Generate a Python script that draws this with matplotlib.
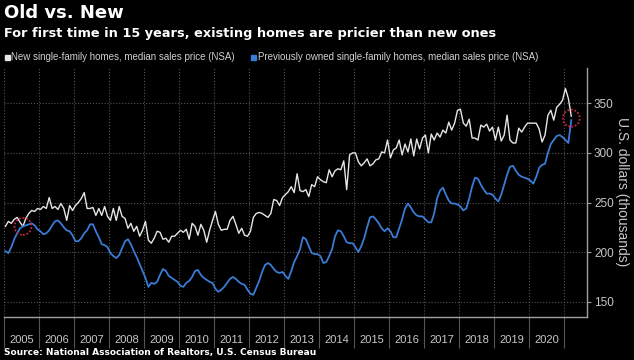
import numpy as np
import matplotlib
matplotlib.use("Agg")
import matplotlib.pyplot as plt
from matplotlib.patches import Ellipse, Rectangle

# monatswerte jan 2005 - mar 2021, tausend usd
years = list(range(2005, 2021))

new_homes = [
    226, 231, 229, 233, 235, 230, 226, 234, 239, 242, 241, 244,
    243, 246, 244, 255, 244, 246, 243, 249, 244, 232, 247, 242,
    247, 250, 254, 260, 244, 244, 245, 237, 244, 237, 246, 236,
    232, 244, 232, 246, 236, 234, 224, 229, 221, 226, 216, 222,
    231, 212, 209, 214, 221, 220, 213, 214, 210, 216, 216, 219,
    222, 220, 223, 213, 229, 226, 217, 228, 222, 210, 222, 232,
    241, 228, 222, 223, 223, 232, 236, 228, 219, 224, 217, 216,
    221, 235, 239, 240, 239, 237, 235, 239, 253, 252, 247, 255,
    258, 261, 266, 260, 279, 262, 261, 263, 256, 268, 266, 276,
    273, 271, 270, 283, 276, 282, 284, 283, 292, 263, 298, 300,
    300, 291, 287, 290, 294, 287, 289, 293, 294, 301, 300, 313,
    295, 303, 305, 313, 298, 309, 301, 314, 297, 314, 304, 315,
    318, 300, 319, 313, 320, 316, 323, 320, 331, 323, 330, 343,
    344, 330, 327, 334, 315, 315, 313, 328, 326, 329, 322, 326,
    313, 326, 312, 318, 338, 313, 310, 310, 325, 321, 326, 330,
    330, 330, 330, 324, 311, 318, 338, 343, 333, 346, 349, 353,
    365, 355, 337,
]

existing_homes = [
    201, 199, 205, 213, 219, 224, 226, 227, 228, 229, 227, 223,
    221, 218, 219, 222, 227, 231, 232, 229, 225, 222, 221, 217,
    211, 211, 214, 219, 222, 228, 228, 221, 215, 208, 207, 205,
    199, 196, 194, 197, 204, 211, 213, 208, 201, 195, 188, 181,
    174, 165, 169, 168, 170, 177, 183, 181, 176, 174, 172, 170,
    166, 165, 169, 171, 175, 181, 182, 177, 174, 172, 170, 169,
    163, 160, 162, 165, 169, 173, 175, 173, 170, 168, 167, 162,
    158, 157, 164, 171, 180, 187, 189, 187, 183, 180, 179, 180,
    176, 173, 181, 190, 196, 203, 215, 213, 206, 199, 198, 198,
    196, 189, 190, 196, 203, 216, 222, 221, 216, 210, 209, 209,
    205, 200, 206, 214, 225, 235, 236, 233, 229, 224, 221, 224,
    221, 215, 215, 224, 233, 244, 249, 245, 240, 237, 236, 236,
    233, 230, 230, 239, 254, 262, 265, 258, 252, 249, 249, 248,
    246, 242, 244, 254, 266, 275, 274, 268, 263, 259, 259, 258,
    254, 251, 258, 268, 278, 286, 287, 282, 278, 276, 275, 274,
    272, 269, 276, 285, 288, 289, 300, 309, 313, 317, 318, 316,
    313, 310, 333,
]

# wo sich die linien treffen (kreise)
highlight_idx = [6, 194]

label_new = "New single-family homes, median sales price (NSA)"
label_old = "Previously owned single-family homes, median sales price (NSA)"

narrow = ["Liberation Sans", "DejaVu Sans"]
white = "#e6e6e6"
blue = "#3a7bd5"

x = np.arange(len(new_homes)) + 0.5
xmin, xmax = 0, 199.9
ymin, ymax = 134.6, 385.6

fig = plt.figure(figsize=(6.34, 3.6), dpi=100, facecolor="black")
ax = fig.add_axes([4 / 634, 1 - 317 / 360, 583 / 634, 249 / 360], facecolor="black")

ax.plot(x, new_homes, color=white, lw=1.0, zorder=3)
ax.plot(x, existing_homes, color=blue, lw=1.3, zorder=3)

ax.set_xlim(xmin, xmax)
ax.set_ylim(ymin, ymax)

# kreise an den schnittpunkten
w = 17 * (xmax - xmin) / 583
h = 17 * (ymax - ymin) / 249
for i in highlight_idx:
    cy = (new_homes[i] + existing_homes[i]) / 2
    ax.add_patch(Ellipse((x[i], cy), w, h, fill=False, edgecolor="#c8283f",
                         lw=1.3, linestyle=(0, (1, 1)), zorder=4))

for s in ["top", "left"]:
    ax.spines[s].set_visible(False)
for s in ["right", "bottom"]:
    ax.spines[s].set_color("#a0a0a0")
    ax.spines[s].set_linewidth(1)

ax.yaxis.tick_right()
ax.set_yticks([150, 200, 250, 300, 350])
ax.tick_params(axis="y", colors="#a0a0a0", labelcolor="#c8c8c8", length=3, pad=2,
               labelsize=8.5)
for t in ax.get_yticklabels():
    t.set_family(narrow)

ax.set_xticks(np.arange(0, 193, 12))
ax.set_xticklabels([])
ax.set_xticks(np.arange(6, 192, 12), minor=True)
ax.set_xticklabels([str(y) for y in years], minor=True)
ax.tick_params(axis="x", which="major", length=22, color="#555555", width=0.8)
ax.tick_params(axis="x", which="minor", length=0, pad=13, labelcolor="#c8c8c8",
               labelsize=8)
for t in ax.get_xticklabels(minor=True):
    t.set_family(narrow)

ax.grid(True, which="major", linestyle=":", color="#555555", linewidth=0.8)

fig.text(4 / 634, 1 - 4 / 360, "Old vs. New", color="white", fontsize=13,
         fontweight="bold", va="top", ha="left")
fig.text(4 / 634, 1 - 27 / 360,
         "For first time in 15 years, existing homes are pricier than new ones",
         color="white", fontsize=9.3, fontweight="bold", va="top", ha="left")

# legende
fig.add_artist(Rectangle((5 / 634, 1 - 60 / 360), 5 / 634, 5 / 360,
                         transform=fig.transFigure, color=white))
fig.text(11 / 634, 1 - 57.5 / 360, label_new, color="#d0d0d0", fontsize=7,
         va="center", ha="left", family=narrow)
fig.add_artist(Rectangle((251 / 634, 1 - 60 / 360), 5 / 634, 5 / 360,
                         transform=fig.transFigure, color=blue))
fig.text(258 / 634, 1 - 57.5 / 360, label_old, color="#d0d0d0", fontsize=7,
         va="center", ha="left", family=narrow)

fig.text(622 / 634, 1 - 192 / 360, "U.S. dollars (thousands)", color="#c8c8c8",
         fontsize=10, rotation=270, va="center", ha="center", family=narrow)

fig.text(4 / 634, 1 - 353 / 360,
         "Source: National Association of Realtors, U.S. Census Bureau",
         color="white", fontsize=6.5, fontweight="bold", va="center", ha="left")

fig.savefig("out.png", dpi=100, facecolor="black")
